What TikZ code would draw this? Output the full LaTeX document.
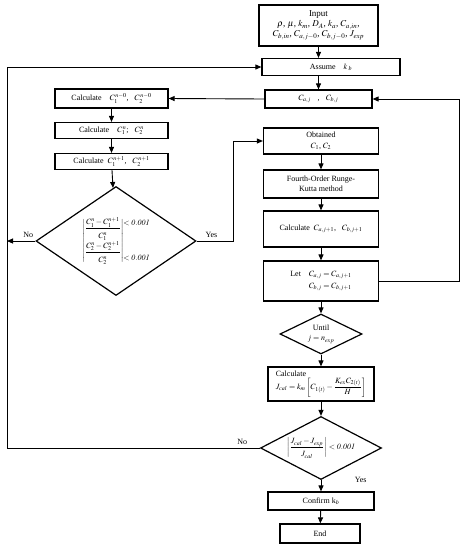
\documentclass[tikz,border=0pt]{standalone}
\usepackage{amsmath}
\usepackage{mathptmx}
\usepackage{fontspec}
\setmainfont{Liberation Serif}
\usetikzlibrary{shapes.geometric,arrows.meta}
\tikzset{
	box/.style={draw,line width=1.2pt,rectangle,inner sep=1pt,align=center,font=\footnotesize},
	dia/.style={draw,line width=1.2pt,diamond,inner sep=-2pt,align=center,font=\footnotesize},
	flow/.style={-{Triangle[length=6pt,width=5pt]},line width=0.9pt},
	lbl/.style={font=\footnotesize},
}
\begin{document}
\begin{tikzpicture}[x=1pt,y=-1pt]
	\useasboundingbox (0,0) rectangle (466,550);
	% right column, top
	\node[box,minimum width=119,minimum height=41,font=\small] (input) at (318.5,25.5)
	{Input\\[-1pt] $\rho$, $\mu$, $k_m$, $D_A$, $k_a$, $C_{a,in}$,\\[-1pt] $C_{b,in}$, $C_{a,j-0}$, $C_{b,j-0}$, $J_{exp}$};
	\node[box,minimum width=138,minimum height=17] (assume) at (331,67) {Assume\quad $k_{\;b}$};
	\node[box,minimum width=107,minimum height=18] (caj) at (318.5,99) {$C_{a,j}$\;\; , \;\;$C_{b,j}$};
	% left column
	\node[box,minimum width=113,minimum height=19] (calc0) at (111.5,98.5) {Calculate\quad $C_1^{\,n-0}$, \ \ $C_2^{\,n-0}$};
	\node[box,minimum width=113,minimum height=16] (calc1) at (111.5,130.5) {Calculate\quad $C_1^{\,n}$;\ \ \ $C_2^{\,n}$};
	\node[box,minimum width=113,minimum height=16] (calc2) at (111.5,161.5) {Calculate\ \ $C_1^{\,n+1}$,\ \ \ $C_2^{\,n+1}$};
	\node[dia,aspect=1.47,minimum width=160,minimum height=109] (bigdia) at (116,241)
	{$\left|\begin{array}{@{}c@{}}\dfrac{C_1^n-C_1^{n+1}}{\rule{0pt}{9pt}C_1^n}\\[8pt]\dfrac{C_2^n-C_2^{n+1}}{\rule{0pt}{9pt}C_2^n}\end{array}\right|
		\!\begin{array}{@{}l@{}}<\mathit{0.001}\\[26pt]<\mathit{0.001}\end{array}$};
	% right column, middle
	\node[box,minimum width=115,minimum height=26] (obtained) at (321,141) {Obtained\\[1pt] $C_1$, $C_2$};
	\node[box,minimum width=115,minimum height=28] (rk) at (321,184) {Fourth-Order Runge-\\Kutta method};
	\node[box,minimum width=115,minimum height=36] (calcab) at (321,229) {Calculate\ \ $C_{a,j+1}$, \ \ $C_{b,j+1}$};
	\node[box,align=left,minimum width=115,minimum height=40] (let) at (321,281)
	{Let\quad $C_{a,j}=C_{a,j+1}$\\[2pt] \phantom{Let\quad}$C_{b,j}=C_{b,j+1}$};
	\node[dia,aspect=2,minimum width=82,minimum height=40] (until) at (321,334) {Until\\[1pt] $j=n_{exp}$};
	\node[box,align=left,minimum width=106,minimum height=34] (calcj) at (321,384)
	{Calculate\\ $J_{cal}=k_m\left[C_{1(t)}-\dfrac{K_{ex}C_{2(t)}}{H}\right]$};
	\node[dia,aspect=1.9,minimum width=121,minimum height=63] (check) at (321,448)
	{$\left|\dfrac{J_{cal}-J_{exp}}{\rule{0pt}{8pt}J_{cal}}\right|<\mathit{0.001}$};
	\node[box,minimum width=106,minimum height=18] (confirm) at (321,501) {Confirm k$_b$};
	\node[box,minimum width=80,minimum height=19] (end) at (320,533.5) {End};
	\coordinate (lp) at (7,448);
	% connectors
	\draw[flow] (input.south) -- (input.south |- assume.north);
	\draw[flow] (caj.north |- assume.south) -- (caj.north);
	\draw[flow] (caj.west) -- (calc0.east);
	\draw[flow] (calc0) -- (calc1);
	\draw[flow] (calc1) -- (calc2);
	\draw[flow] (calc2) -- (bigdia);
	\draw[flow] (bigdia.east) -- ++(37,0) node[lbl,above,pos=0.4] {Yes} |- (obtained.west);
	\draw[flow] (bigdia.west) -- (bigdia.west -| lp) node[lbl,above,pos=0.25] {No};
	\draw[flow] (obtained) -- (rk);
	\draw[flow] (rk) -- (calcab);
	\draw[flow] (calcab) -- (let);
	\draw[flow] (let) -- (until);
	\draw[flow] (let.east) -- ++(80,0) |- (caj.east);
	\draw[flow] (until) -- (calcj);
	\draw[flow] (calcj) -- (check);
	\draw[flow] (check.west) -- (lp) node[lbl,above,pos=0.07] {No} |- (assume.west);
	\draw[flow] (check) -- (confirm) node[lbl,right=30pt,pos=0] {Yes};
	\draw[flow] (confirm) -- (end);
\end{tikzpicture}
\end{document}
